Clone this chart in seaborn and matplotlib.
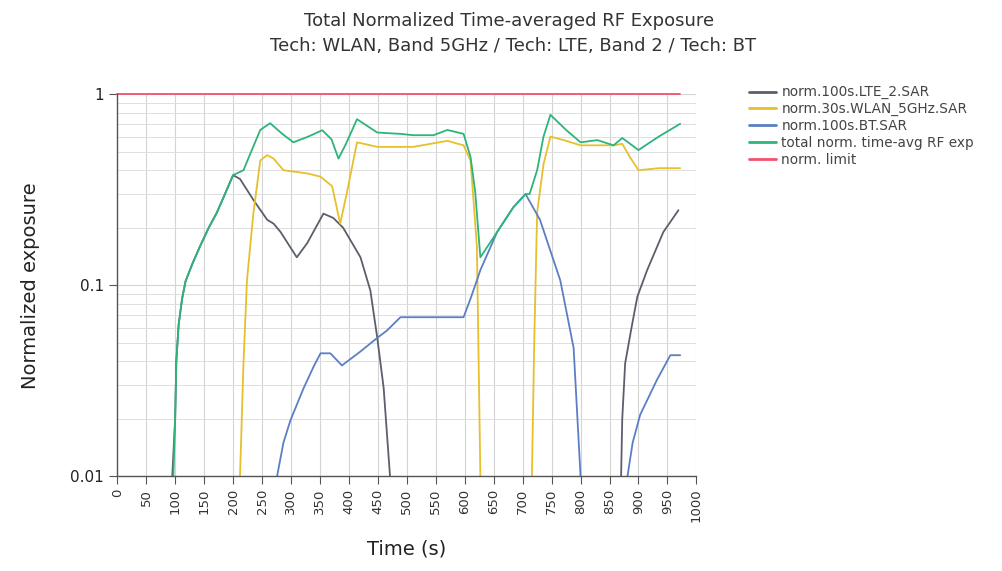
import numpy as np
import pandas as pd
import seaborn as sns
import matplotlib.pyplot as plt
from matplotlib.lines import Line2D
from matplotlib.ticker import NullFormatter, LogLocator

# data (time in s, normalized exposure)
lte_t1 = [95, 100, 102, 106, 112, 118, 130, 143, 158, 172, 186, 200, 212, 235, 259, 270, 282, 310, 328, 356, 373, 390, 420, 437, 449, 460, 471]
lte_v1 = [0.01, 0.02, 0.04, 0.062, 0.085, 0.105, 0.13, 0.16, 0.2, 0.24, 0.3, 0.377, 0.36, 0.28, 0.22, 0.21, 0.19, 0.14, 0.166, 0.237, 0.225, 0.20, 0.14, 0.094, 0.053, 0.029, 0.01]
lte_t2 = [870, 872, 877, 888, 898, 915, 943, 969]
lte_v2 = [0.01, 0.02, 0.039, 0.06, 0.087, 0.12, 0.19, 0.247]

wlan_t1 = [212, 218, 224, 235, 247, 259, 270, 287, 328, 351, 371, 385, 397, 414, 449, 511, 570, 598, 610, 621, 627]
wlan_v1 = [0.01, 0.039, 0.106, 0.237, 0.45, 0.48, 0.46, 0.40, 0.385, 0.37, 0.33, 0.21, 0.31, 0.56, 0.53, 0.53, 0.57, 0.54, 0.45, 0.16, 0.01]
wlan_t2 = [716, 720, 725, 736, 748, 771, 800, 857, 872, 885, 900, 935, 972]
wlan_v2 = [0.01, 0.05, 0.24, 0.43, 0.6, 0.575, 0.54, 0.54, 0.55, 0.47, 0.40, 0.41, 0.41]

bt_t1 = [276, 287, 299, 322, 340, 351, 368, 388, 420, 449, 466, 489, 598, 610, 621, 627, 656, 684, 705, 730, 765, 788, 800]
bt_v1 = [0.01, 0.015, 0.0196, 0.029, 0.038, 0.044, 0.044, 0.038, 0.045, 0.053, 0.058, 0.068, 0.068, 0.085, 0.106, 0.12, 0.19, 0.256, 0.30, 0.22, 0.106, 0.047, 0.01]
bt_t2 = [881, 890, 903, 932, 955, 972]
bt_v2 = [0.01, 0.015, 0.021, 0.032, 0.043, 0.043]

total_t = [97, 100, 102, 106, 112, 118, 130, 143, 158, 172, 186, 200, 218, 230, 247, 264, 285, 304, 330, 354, 370, 382, 395, 414, 449, 489, 511, 546, 570, 598, 610, 618, 627, 656, 684, 705, 712, 725, 736, 748, 775, 800, 829, 857, 872, 900, 935, 972]
total_v = [0.01, 0.02, 0.04, 0.062, 0.085, 0.105, 0.13, 0.16, 0.2, 0.24, 0.3, 0.377, 0.40, 0.49, 0.65, 0.705, 0.62, 0.56, 0.60, 0.648, 0.58, 0.46, 0.55, 0.74, 0.63, 0.62, 0.61, 0.61, 0.65, 0.62, 0.47, 0.31, 0.14, 0.19, 0.256, 0.30, 0.30, 0.4, 0.6, 0.78, 0.65, 0.56, 0.575, 0.54, 0.59, 0.51, 0.6, 0.70]

limit_t = [0, 972]
limit_v = [1, 1]

names = ["norm.100s.LTE_2.SAR", "norm.30s.WLAN_5GHz.SAR", "norm.100s.BT.SAR",
         "total norm. time-avg RF exp", "norm. limit"]
colors = ["#5a5f6b", "#e8bf2c", "#5b7fc4", "#2cb57a", "#f2506e"]

segments = [
    (names[0], 0, lte_t1, lte_v1), (names[0], 1, lte_t2, lte_v2),
    (names[1], 0, wlan_t1, wlan_v1), (names[1], 1, wlan_t2, wlan_v2),
    (names[2], 0, bt_t1, bt_v1), (names[2], 1, bt_t2, bt_v2),
    (names[3], 0, total_t, total_v),
    (names[4], 0, limit_t, limit_v),
]
rows = []
for name, seg, ts, vs in segments:
    for t, v in zip(ts, vs):
        rows.append({"series": name, "seg": seg, "time": t, "value": v})
df = pd.DataFrame(rows)

sns.set_style("whitegrid")
plt.rcParams['font.family'] = ['DejaVu Sans']

fig = plt.figure(figsize=(10.02, 5.71), dpi=100)
ax = fig.add_axes([0.117, 0.166, 0.578, 0.669])

sns.lineplot(data=df, x="time", y="value", hue="series", units="seg",
             estimator=None, hue_order=names, palette=colors,
             linewidth=1.3, legend=False, ax=ax)
# limit line sits on top edge
for ln in ax.lines:
    ln.set_clip_on(False)

ax.set_yscale("log")
ax.set_ylim(0.01, 1.0)
ax.set_xlim(0, 1000)
ax.set_xticks(np.arange(0, 1001, 50))
ax.set_xticklabels([str(v) for v in range(0, 1001, 50)], rotation=90, fontsize=9.5, color="#333333")
ax.set_yticks([0.01, 0.1, 1])
ax.set_yticklabels(["0.01", "0.1", "1"], fontsize=11, color="#222222")
ax.yaxis.set_minor_locator(LogLocator(base=10, subs=np.arange(2, 10)))
ax.yaxis.set_minor_formatter(NullFormatter())

ax.grid(True, which="major", color="#d4d4d4", linewidth=0.8)
ax.grid(True, which="minor", axis="y", color="#dedede", linewidth=0.7)
ax.tick_params(axis="x", which="major", bottom=True, length=6, color="#555555", pad=3)
ax.tick_params(axis="y", which="major", left=True, length=6, color="#555555")
ax.tick_params(axis="y", which="minor", left=False)
for s in ["top", "right"]:
    ax.spines[s].set_visible(False)
for s in ["left", "bottom"]:
    ax.spines[s].set_color("#555555")
    ax.spines[s].set_linewidth(1.0)

ax.set_xlabel("Time (s)", fontsize=14, color="#222222", labelpad=12)
ax.set_ylabel("Normalized exposure", fontsize=14, color="#222222", labelpad=22)

fig.text(0.508, 0.963, "Total Normalized Time-averaged RF Exposure", ha="center", va="center",
         fontsize=13, color="#333333")
fig.text(0.512, 0.919, "Tech: WLAN, Band 5GHz / Tech: LTE, Band 2 / Tech: BT", ha="center",
         va="center", fontsize=13, color="#333333")

handles = [Line2D([0], [0], color=c, lw=2) for c in colors]
fig.legend(handles, names, loc="upper left", bbox_to_anchor=(0.735, 0.872), frameon=False,
           fontsize=9.8, handlelength=2.0, handletextpad=0.4, labelspacing=0.2,
           labelcolor="#444444")

fig.savefig("out.png", dpi=100)
